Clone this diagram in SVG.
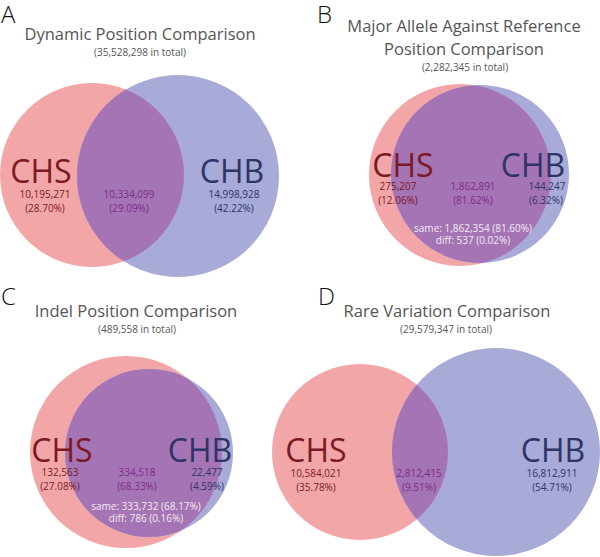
<svg xmlns="http://www.w3.org/2000/svg" width="600" height="557" viewBox="0 0 600 557">
<style>
text{font-family:"Open Sans","Liberation Sans",sans-serif;text-anchor:middle}
.pl{font-size:24px;font-weight:300;fill:#111;text-anchor:start}
.tt{font-size:16.5px;fill:#555}
.st{font-size:10px;fill:#555}
.big{font-size:32px}
.n{font-size:10px}
.s{fill:#7b1a22}
.b{fill:#2e3566}
.i{fill:#7d2a8a}
.w{fill:#f3ebf3}
.pink{fill:#f2a6a8}
.blue{fill:#a8aad8}
.mix{fill:#a574b4}
</style>
<defs>
<clipPath id="cA"><circle cx="92" cy="175" r="92"/></clipPath>
<clipPath id="cB"><circle cx="460" cy="175" r="91"/></clipPath>
<clipPath id="cC"><circle cx="126" cy="452" r="96"/></clipPath>
<clipPath id="cD"><circle cx="360" cy="452" r="88"/></clipPath>
</defs>
<rect width="600" height="557" fill="#fff"/>

<g id="panelA">
<g id="A-CHS"><circle class="pink" cx="92" cy="175" r="92"/></g>
<g id="A-CHB"><circle class="blue" cx="178" cy="176" r="101"/></g>
<g id="A-both"><circle class="mix" cx="178" cy="176" r="101" clip-path="url(#cA)"/></g>
<text class="pl" x="1" y="23">A</text>
<text class="tt" x="140" y="40">Dynamic Position Comparison</text>
<text class="st" x="140" y="56">(35,528,298 in total)</text>
<text class="big s" x="41" y="183">CHS</text>
<text class="big b" x="232" y="183">CHB</text>
<text class="n s" x="45" y="198">10,195,271</text>
<text class="n s" x="45" y="212">(28.70%)</text>
<text class="n i" x="129" y="198">10,334,099</text>
<text class="n i" x="129" y="212">(29.09%)</text>
<text class="n b" x="234" y="198">14,998,928</text>
<text class="n b" x="234" y="212">(42.22%)</text>
</g>

<g id="panelB">
<g id="B-CHS"><circle class="pink" cx="460" cy="175" r="91"/></g>
<g id="B-CHB"><circle class="blue" cx="480" cy="174" r="89"/></g>
<g id="B-both"><circle class="mix" cx="480" cy="174" r="89" clip-path="url(#cB)"/></g>
<text class="pl" x="317" y="23">B</text>
<text class="tt" x="464" y="32">Major Allele Against Reference</text>
<text class="tt" x="464" y="55">Position Comparison</text>
<text class="st" x="465" y="71">(2,282,345 in total)</text>
<text class="big s" x="403" y="177">CHS</text>
<text class="big b" x="533" y="177">CHB</text>
<text class="n s" x="398" y="190">275,207</text>
<text class="n s" x="398" y="204">(12.06%)</text>
<text class="n i" x="473" y="190">1,862,891</text>
<text class="n i" x="473" y="204">(81.62%)</text>
<text class="n b" x="547" y="190">144,247</text>
<text class="n b" x="546" y="204">(6.32%)</text>
<text class="n w" x="473" y="232">same: 1,862,354 (81.60%)</text>
<text class="n w" x="473" y="244">diff: 537 (0.02%)</text>
</g>

<g id="panelC">
<g id="C-CHS"><circle class="pink" cx="126" cy="452" r="96"/></g>
<g id="C-CHB"><circle class="blue" cx="149" cy="453" r="84"/></g>
<g id="C-both"><circle class="mix" cx="149" cy="453" r="84" clip-path="url(#cC)"/></g>
<text class="pl" x="1" y="305">C</text>
<text class="tt" x="136" y="317">Indel Position Comparison</text>
<text class="st" x="137" y="333">(489,558 in total)</text>
<text class="big s" x="62" y="462">CHS</text>
<text class="big b" x="200" y="462">CHB</text>
<text class="n s" x="60" y="476">132,563</text>
<text class="n s" x="60" y="490">(27.08%)</text>
<text class="n i" x="137" y="476">334,518</text>
<text class="n i" x="137" y="490">(68.33%)</text>
<text class="n b" x="207" y="476">22,477</text>
<text class="n b" x="207" y="490">(4.59%)</text>
<text class="n w" x="146" y="510">same: 333,732 (68.17%)</text>
<text class="n w" x="146" y="522">diff: 786 (0.16%)</text>
</g>

<g id="panelD">
<g id="D-CHS"><circle class="pink" cx="360" cy="452" r="88"/></g>
<g id="D-CHB"><circle class="blue" cx="496" cy="452" r="104"/></g>
<g id="D-both"><circle class="mix" cx="496" cy="452" r="104" clip-path="url(#cD)"/></g>
<text class="pl" x="318" y="305">D</text>
<text class="tt" x="447" y="317">Rare Variation Comparison</text>
<text class="st" x="446" y="333">(29,579,347 in total)</text>
<text class="big s" x="316" y="462">CHS</text>
<text class="big b" x="553" y="462">CHB</text>
<text class="n s" x="316" y="477">10,584,021</text>
<text class="n s" x="316" y="491">(35.78%)</text>
<text class="n i" x="419" y="477">2,812,415</text>
<text class="n i" x="419" y="491">(9.51%)</text>
<text class="n b" x="552" y="477">16,812,911</text>
<text class="n b" x="552" y="491">(54.71%)</text>
</g>
</svg>
